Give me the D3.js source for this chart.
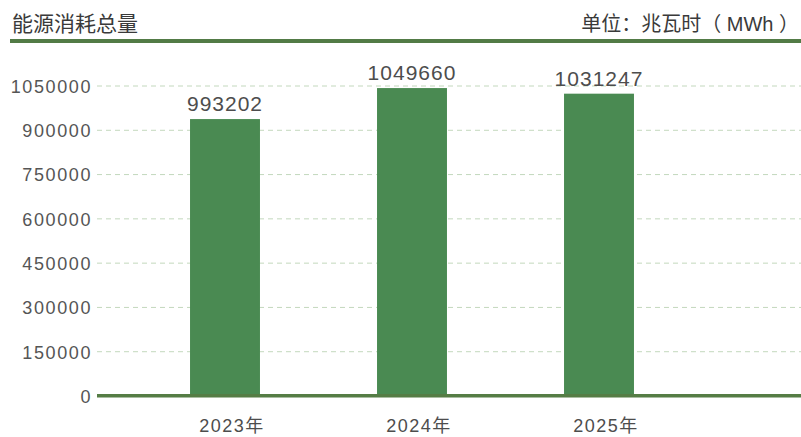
<!DOCTYPE html>
<html><head><meta charset="utf-8">
<script src="https://cdn.jsdelivr.net/npm/d3@7"></script>
<style>
body{margin:0;background:#fff;}
text{font-family:"Liberation Sans","Noto Sans CJK SC",sans-serif;fill:#4d4d4d;}
</style></head>
<body><svg id="c" width="801" height="437"></svg>
<script>
const categories = ["2023年","2024年","2025年"];
const valueLabels = [993202, 1049660, 1031247];
const barValues = [938000, 1043000, 1024000];
const yTicks = [0,150000,300000,450000,600000,750000,900000,1050000];
const title = "能源消耗总量";
const unit = "单位：兆瓦时（ MWh ）";

const svg = d3.select("#c");
const W = 801, H = 437;
const x0 = 97, x1 = 801;
const y = d3.scaleLinear().domain([0,1050000]).range([396,86]);
const x = d3.scaleBand().domain(categories).range([131.5, 692.5]).paddingInner(0.626).paddingOuter(0.313);

// header
svg.append("text").attr("x",12).attr("y",31).attr("font-size",21).style("fill","#3a3a3a").text(title);
svg.append("text").attr("x",799).attr("y",31).attr("text-anchor","end").attr("font-size",20).style("fill","#3a3a3a").text(unit);
svg.append("rect").attr("x",10).attr("y",39).attr("width",W-10).attr("height",4).attr("fill","#527b46");

// grid
const grid = svg.append("g");
grid.selectAll("line").data(yTicks.filter(d=>d>0)).join("line")
  .attr("x1",x0).attr("x2",x1).attr("y1",d=>y(d)).attr("y2",d=>y(d))
  .attr("stroke","#c3d8bd").attr("stroke-width",1).attr("stroke-dasharray","5,4");

// y axis labels
const yAxis = d3.axisLeft(y).tickValues(yTicks).tickSize(0).tickPadding(0).tickFormat(d3.format("d"));
const ya = svg.append("g").attr("transform",`translate(92,0)`).call(yAxis);
ya.select(".domain").remove();
ya.selectAll("text").attr("font-size",18).attr("letter-spacing",1.6).style("fill","#555").attr("dy","0.35em").attr("font-family",null);

// bars
svg.append("g").selectAll("rect").data(categories).join("rect")
  .attr("x",d=>x(d)).attr("width",x.bandwidth())
  .attr("y",(d,i)=>y(barValues[i])).attr("height",(d,i)=>y(0)-y(barValues[i]))
  .attr("fill","#4a8a52");

// value labels
svg.append("g").selectAll("text").data(categories).join("text")
  .attr("x",d=>x(d)+x.bandwidth()/2).attr("y",(d,i)=>y(barValues[i])-8)
  .attr("text-anchor","middle").attr("font-size",21).attr("letter-spacing",1)
  .style("fill","#4d4d4d").text((d,i)=>valueLabels[i]);

// baseline
svg.append("rect").attr("x",x0).attr("y",394).attr("width",x1-x0).attr("height",3.5).attr("fill","#557d45");

// x axis labels
const xAxis = d3.axisBottom(x).tickSize(0).tickPadding(0);
const xa = svg.append("g").attr("transform","translate(7,0)").call(xAxis);
xa.select(".domain").remove();
xa.selectAll("text").attr("y",432).attr("dy",null).attr("font-size",18).attr("letter-spacing",1.5).style("fill","#4d4d4d").attr("font-family",null);
</script></body></html>
